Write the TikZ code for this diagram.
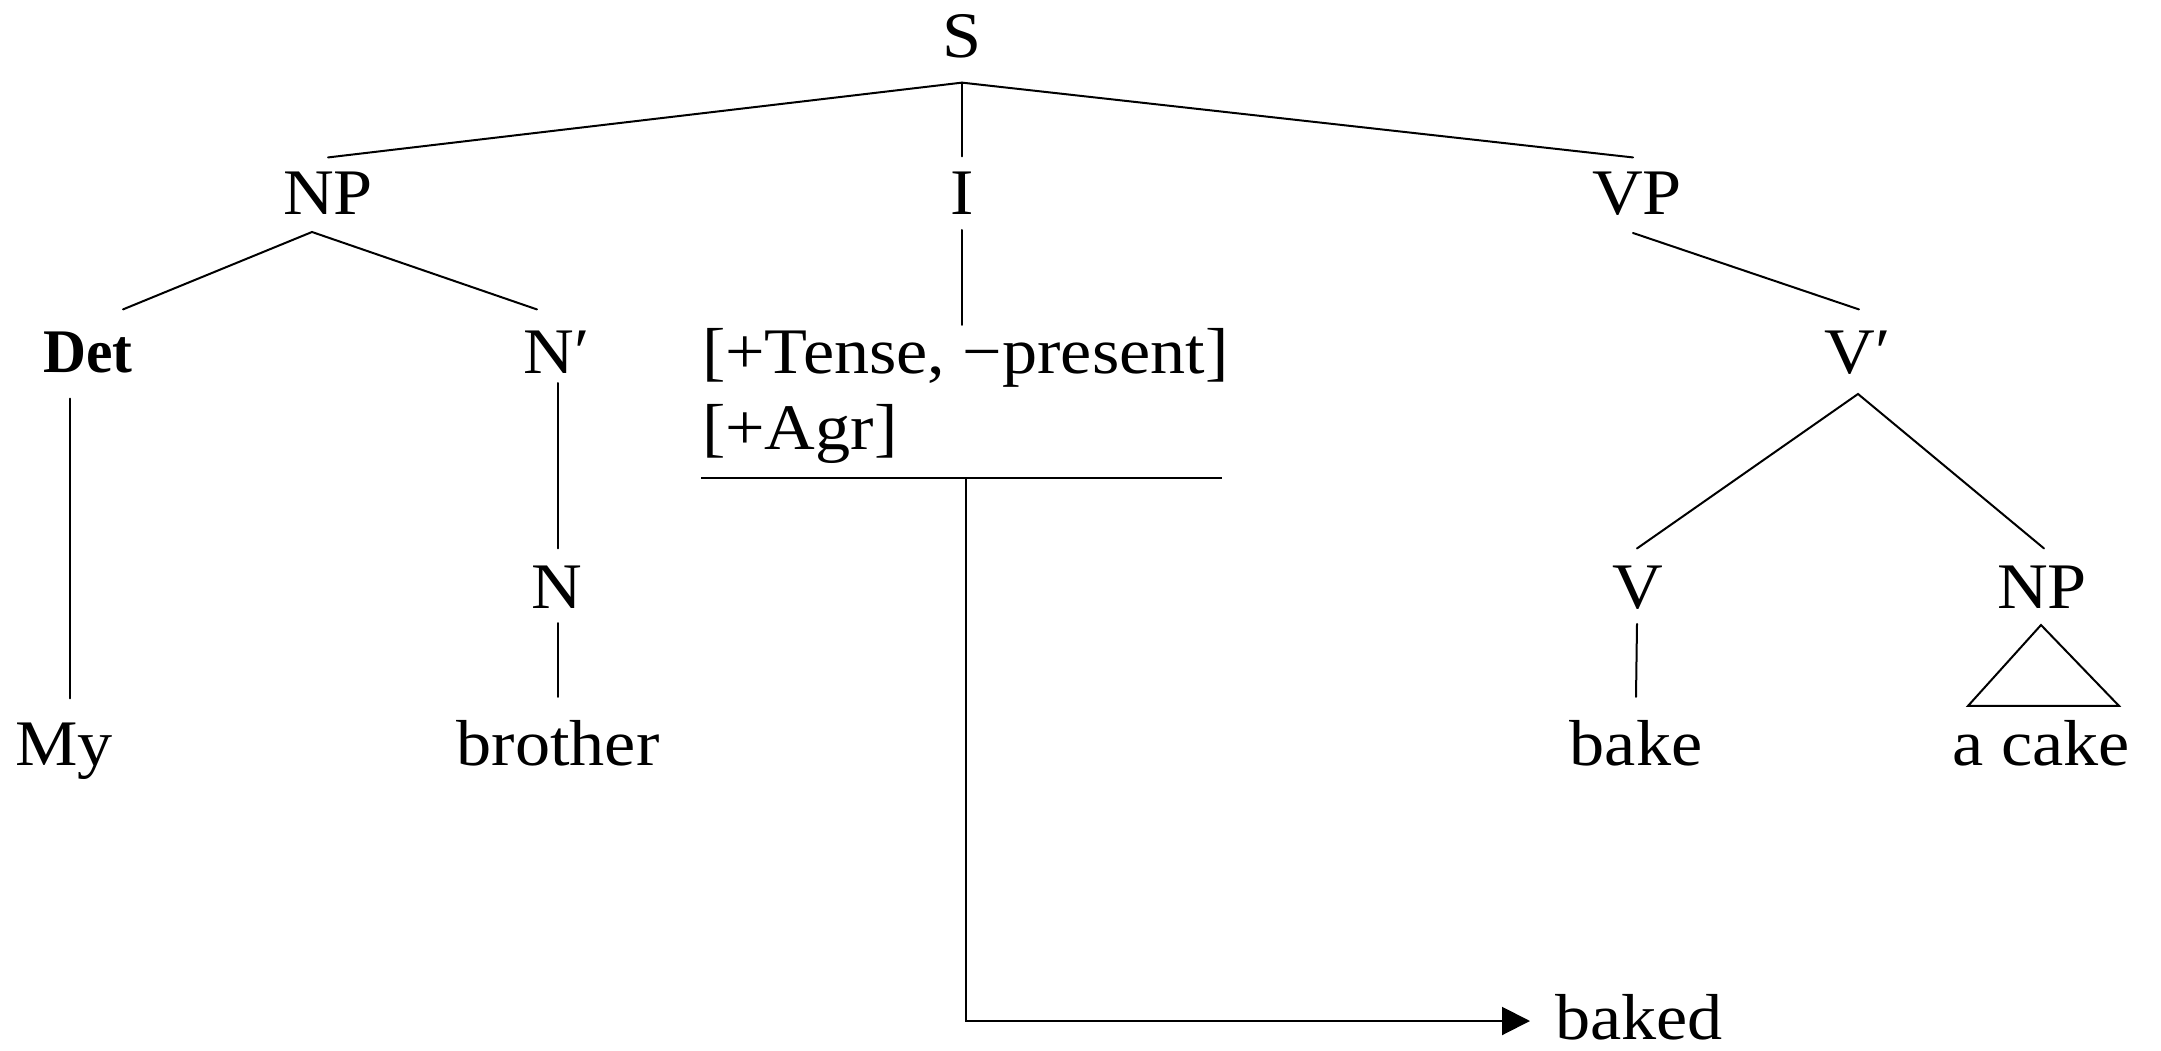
\documentclass[tikz,border=0pt]{standalone}
\usepackage{fontspec}
\setmainfont{Liberation Serif}[FakeStretch=1.08]
\newfontfamily\detfont{Liberation Serif}[FakeStretch=0.96]
\usetikzlibrary{arrows.meta,calc}
\begin{document}
\begin{tikzpicture}[x=1pt,y=-1pt,
  lbl/.style={font=\fontsize{65}{76}\selectfont, inner sep=0pt, outer sep=0pt, anchor=base},
  edge/.style={line width=2pt, line cap=round},
  barline/.style={line width=2.6pt},
  tip/.style={-{Triangle[length=28pt,width=28pt]}}]
\useasboundingbox (0,0) rectangle (2161,1051);
% nodes
\node[lbl] (S) at (962,58) {S};
\node[lbl] (NP) at (328,215) {NP};
\node[lbl] (I) at (962,215) {I};
\node[lbl] (VP) at (1637,215) {VP};
\node[lbl, font=\detfont\bfseries\fontsize{62}{70}\selectfont] (Det) at (88,372) {Det};
\node[lbl] (Nbar) at (557,373) {N′};
\node[lbl, anchor=base west] (feat) at (702,373)
  {\begin{tabular}[t]{@{}l@{}}[+Tense, −present]\\{[}+Agr{]}\end{tabular}};
\node[lbl] (Vbar) at (1858,373) {V′};
\node[lbl] (N) at (557,608) {N};
\node[lbl] (V) at (1638,608) {V};
\node[lbl] (NPo) at (2042,608) {NP};
\node[lbl] (My) at (64,765) {My};
\node[lbl] (brother) at (558,765) {brother};
\node[lbl] (bake) at (1636,765) {bake};
\node[lbl] (acake) at (2041,765) {a cake};
\node[lbl, anchor=base west] (baked) at (1555,1039) {baked};
% connectors
\draw[edge] ([yshift=15pt]NP.north) -- ([yshift=-24pt]S.south) -- ([xshift=-4pt,yshift=15pt]VP.north);
\draw[edge] ([yshift=-24pt]S.south) -- ([yshift=16pt]I.north);
\draw[edge] ([xshift=35pt,yshift=22pt]Det.north) -- ([xshift=-16pt,yshift=-17pt]NP.south) -- ([xshift=-20pt,yshift=21pt]Nbar.north);
\draw[edge] ([yshift=-15pt]I.south) -- ([yshift=-5pt]I.south |- feat.north);
\draw[edge] ([xshift=-4pt,yshift=-17pt]VP.south) -- ([xshift=1pt,yshift=21pt]Vbar.north);
\draw[edge] ([xshift=-18pt,yshift=-26pt]Det.south) -- ([xshift=6pt,yshift=24pt]My.north);
\draw[edge] ([xshift=1pt,yshift=-10pt]Nbar.south) -- ([xshift=1pt,yshift=17pt]N.north);
\draw[edge] ([xshift=1pt,yshift=-15pt]N.south) -- ([yshift=23pt]brother.north);
\draw[edge] ([xshift=-1pt,yshift=17pt]V.north) -- ([yshift=-20pt]Vbar.south) -- ([xshift=2pt,yshift=17pt]NPo.north);
\draw[edge] ([xshift=-1pt,yshift=-15pt]V.south) -- ([yshift=23pt]bake.north);
\draw[edge, line join=miter] ([xshift=-1pt,yshift=-17pt]NPo.south) -- ([xshift=-73pt,yshift=14pt]acake.north) -- ([xshift=78pt,yshift=14pt]acake.north) -- cycle;
% feature bar and lowering arrow
\coordinate (barL) at ([xshift=-1pt,yshift=-6pt]feat.south west);
\coordinate (barR) at ([xshift=-6pt,yshift=-6pt]feat.south east);
\draw[barline] (barL) -- (barR);
\coordinate (drop) at ($(I.south |- barL)+(4,0)$);
\draw[edge, line cap=butt, tip] (drop) |- ([xshift=-25pt,yshift=18pt]baked.base west);
\end{tikzpicture}
\end{document}
